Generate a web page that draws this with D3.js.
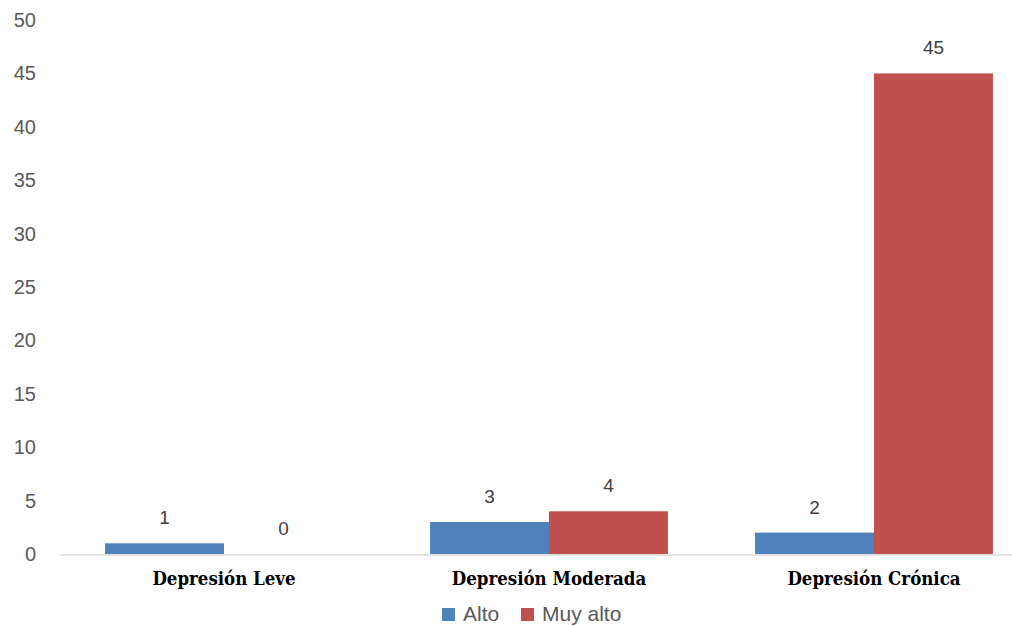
<!DOCTYPE html>
<html><head><meta charset="utf-8">
<script src="https://cdn.jsdelivr.net/npm/d3@7"></script>
<style>html,body{margin:0;padding:0;background:#fff;overflow:hidden}</style>
</head><body>
<svg id="chart" width="1012" height="626"></svg>
<script>
const categories = ["Depresión Leve", "Depresión Moderada", "Depresión Crónica"];
const seriesNames = ["Alto", "Muy alto"];
const alto = [1, 3, 2];
const muyAlto = [0, 4, 45];
const yTicks = [0, 5, 10, 15, 20, 25, 30, 35, 40, 45, 50];
const colors = ["#4F81BD", "#C0504D"];

const svg = d3.select("#chart");
const W = 1012, H = 626;
const y = d3.scaleLinear().domain([0, 50]).range([554, 20]);
const x0 = d3.scaleBand().domain(categories).range([61.5, 1036.5]).paddingInner(0.268).paddingOuter(0.134);
const x1 = d3.scaleBand().domain(seriesNames).range([0, x0.bandwidth()]);

const values = [alto, muyAlto];
const tickFont = "'Liberation Sans', Arial, sans-serif";

// y-axis labels (no line)
const yAxis = d3.axisLeft(y).tickValues(yTicks).tickSize(0).tickPadding(0);
const gy = svg.append("g").attr("transform", "translate(36,0)").call(yAxis);
gy.select(".domain").remove();
gy.selectAll("text").attr("fill", "#595959").style("font-family", tickFont).style("font-size", "20px");

// bars
const groups = svg.append("g").selectAll("g").data(categories).join("g")
  .attr("transform", c => `translate(${x0(c)},0)`);
groups.selectAll("rect").data((c, i) => seriesNames.map((s, k) => ({s, v: values[k][i], k})))
  .join("rect")
  .attr("x", d => x1(d.s)).attr("width", x1.bandwidth())
  .attr("y", d => y(d.v)).attr("height", d => y(0) - y(d.v))
  .attr("fill", d => colors[d.k]);
groups.selectAll("text.lbl").data((c, i) => seriesNames.map((s, k) => ({s, v: values[k][i], k})))
  .join("text").attr("class", "lbl")
  .attr("x", d => x1(d.s) + x1.bandwidth() / 2)
  .attr("y", d => y(d.v) - 19)
  .attr("text-anchor", "middle")
  .attr("fill", "#404040")
  .style("font-family", tickFont).style("font-size", "19px")
  .text(d => d.v);

// x axis line
svg.append("line").attr("x1", 60).attr("x2", W).attr("y1", 555).attr("y2", 555)
  .attr("stroke", "#D9D9D9").attr("stroke-width", 1.5);

// category labels
const xAxis = d3.axisBottom(x0).tickSize(0).tickPadding(0);
const gx = svg.append("g").attr("transform", "translate(0,572)").call(xAxis);
gx.select(".domain").remove();
gx.selectAll("text").attr("fill", "#000")
  .style("font-family", "'DejaVu Serif Condensed', 'DejaVu Serif', serif")
  .style("font-stretch", "condensed")
  .style("font-weight", "bold").style("font-size", "18.5px");

// legend
const leg = svg.append("g");
const legX = [442, 521];
seriesNames.forEach((s, k) => {
  leg.append("rect").attr("x", legX[k]).attr("y", 608).attr("width", 13).attr("height", 13).attr("fill", colors[k]);
  leg.append("text").attr("x", legX[k] + 21).attr("y", 621).attr("fill", "#595959")
    .style("font-family", tickFont).style("font-size", "21px").text(s);
});
</script>
</body></html>
